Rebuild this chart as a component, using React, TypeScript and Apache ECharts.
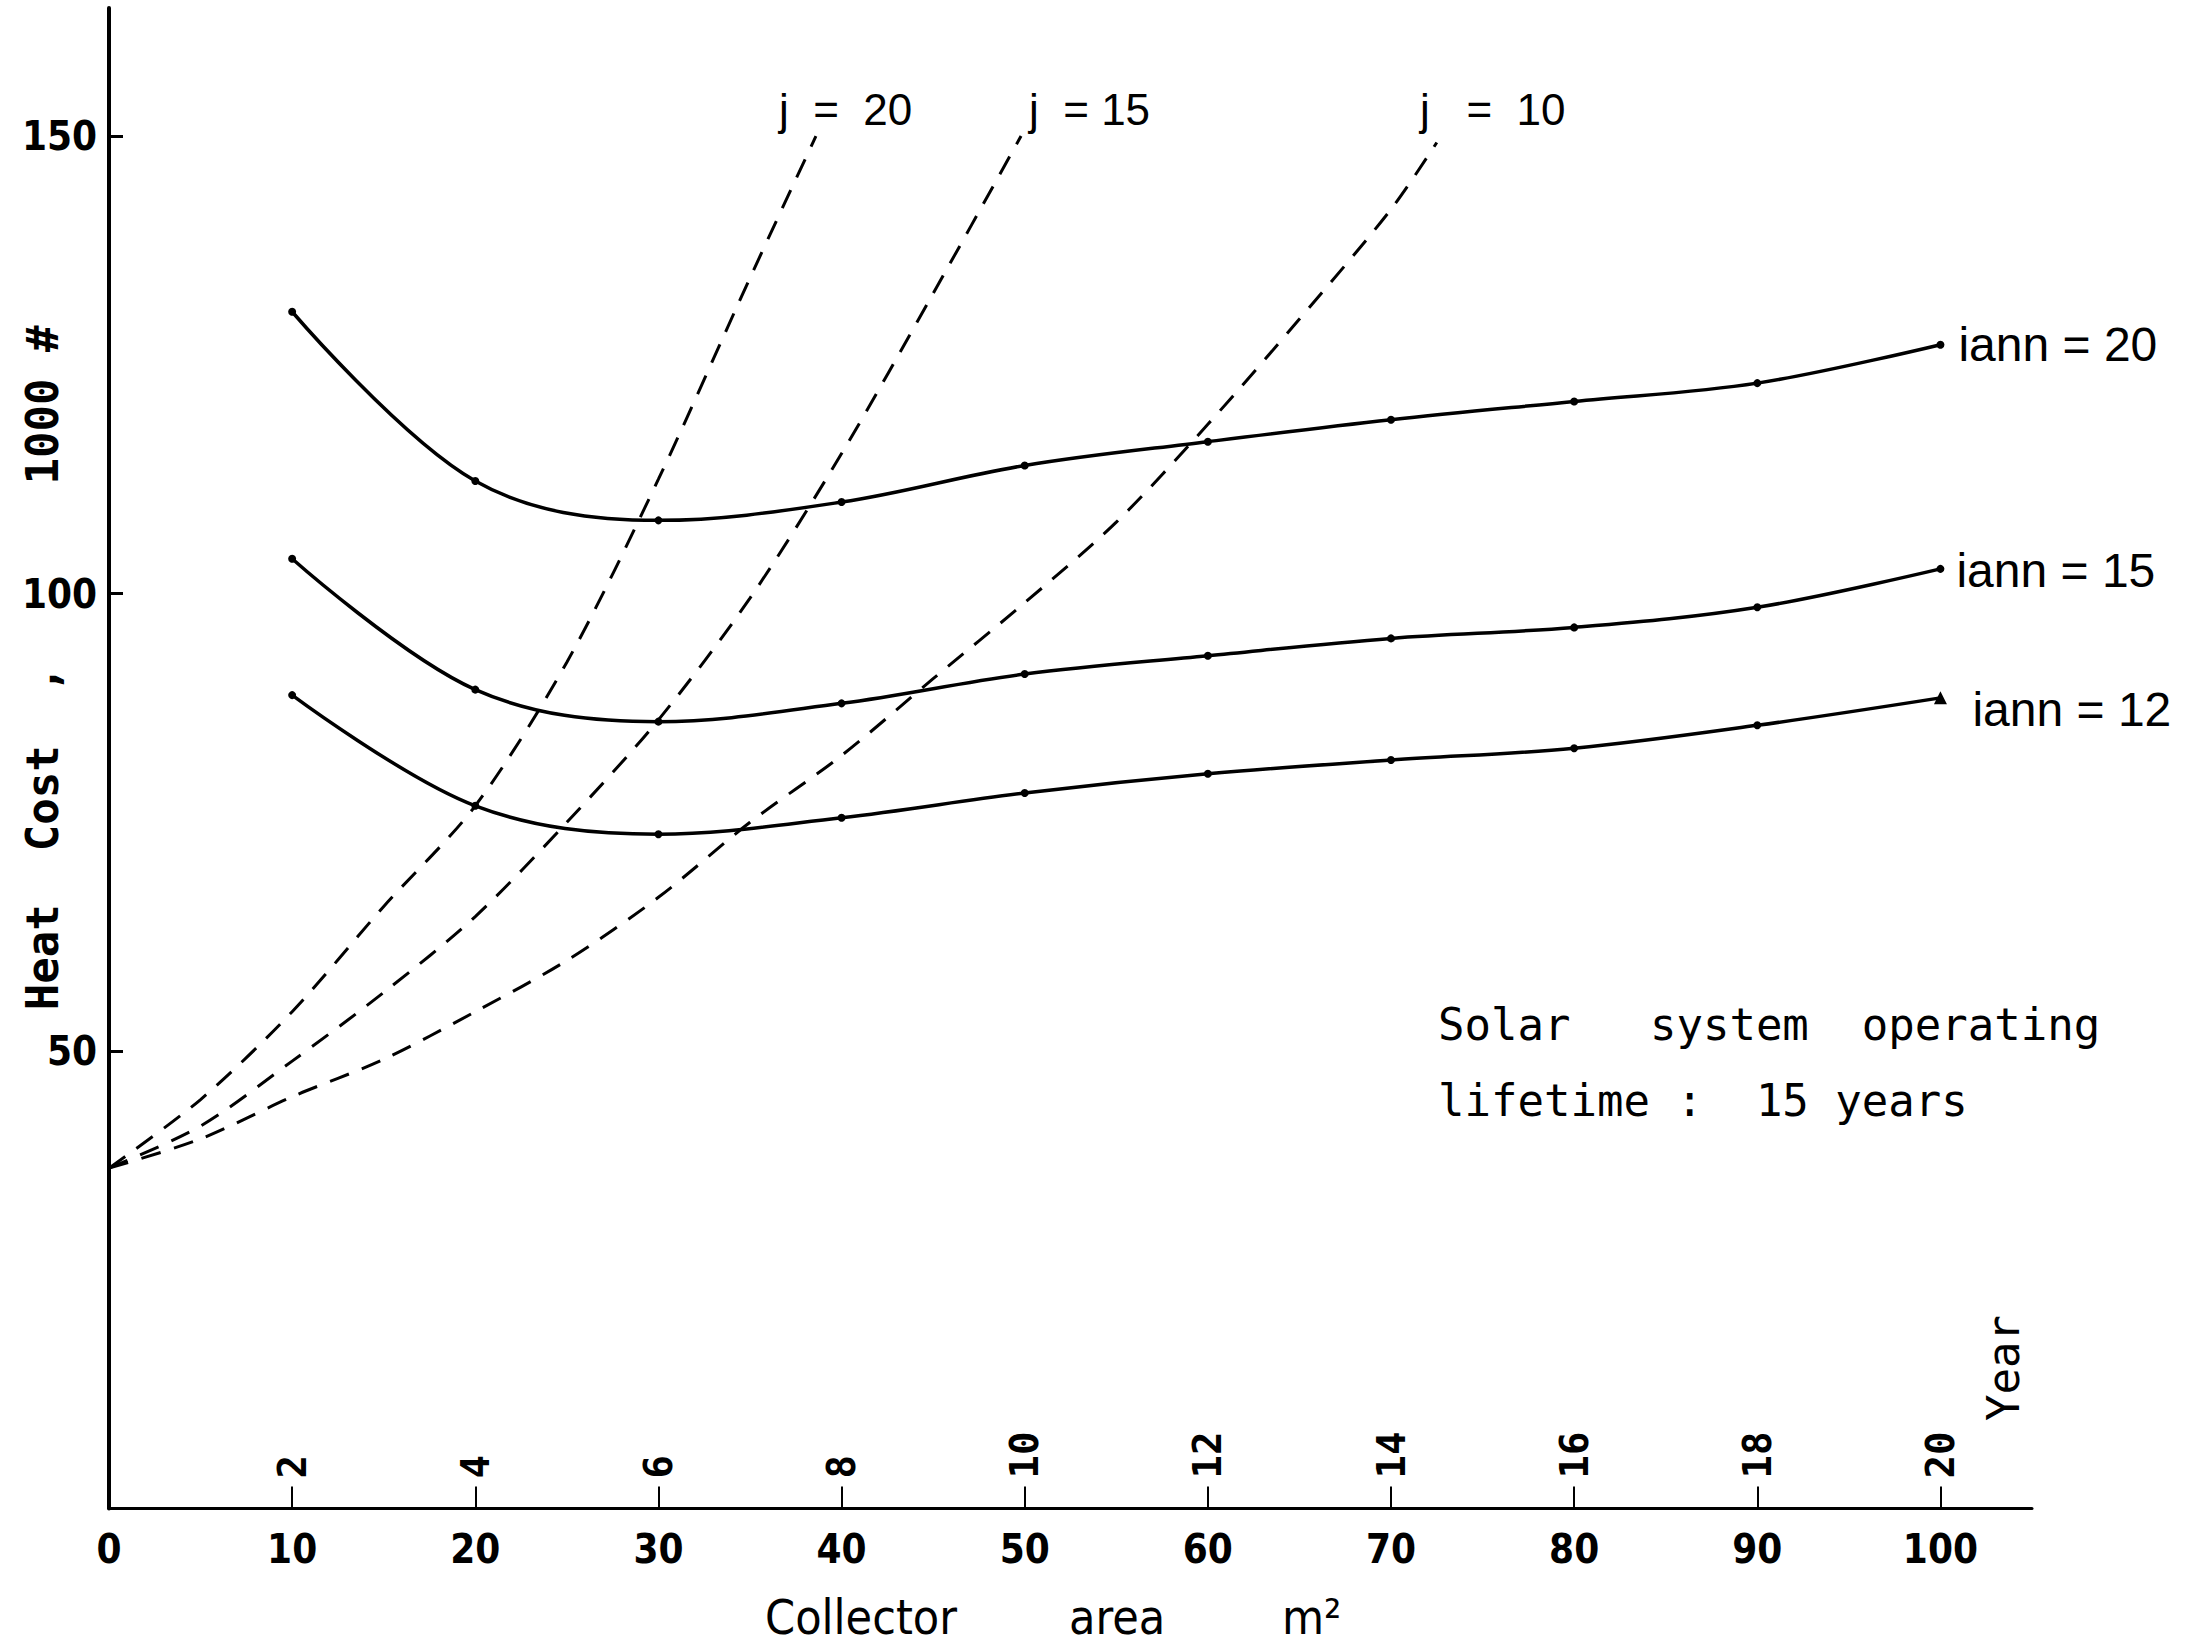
import React, { useEffect, useRef } from "react";
import * as echarts from "echarts";

// ---------- data ----------
const areaTickValues = [0, 10, 20, 30, 40, 50, 60, 70, 80, 90, 100];
const yearTickValues = [10, 20, 30, 40, 50, 60, 70, 80, 90, 100];
const yearLabels = ["2", "4", "6", "8", "10", "12", "14", "16", "18", "20"];
const costTickValues = [50, 100, 150];

const collectorArea = [10, 20, 30, 40, 50, 60, 70, 80, 90, 100];
const iann20 = [130.8, 112.3, 108.0, 110.0, 114.0, 116.6, 119.0, 121.0, 123.0, 127.2];
const iann15 = [103.8, 89.5, 86.0, 88.0, 91.2, 93.2, 95.1, 96.3, 98.5, 102.7];
const iann12 = [88.9, 76.8, 73.7, 75.5, 78.2, 80.3, 81.8, 83.1, 85.6, 88.6];

const j20Area = [0, 5, 10, 15, 20, 25, 30, 35, 38.6];
const j20Cost = [37.2, 44.7, 54.3, 65.8, 76.8, 92.5, 112.5, 134.5, 150.0];
const j15Area = [0, 5, 10, 15, 20, 25, 30, 35, 40, 45, 49.8];
const j15Cost = [37.2, 41.8, 48.9, 56.4, 64.7, 75.0, 86.2, 99.5, 115.3, 132.8, 150.0];
const j10Area = [0, 5, 10, 15, 20, 25, 30, 35, 40, 45, 50, 55, 60, 65, 70, 72.5];
const j10Cost = [37.2, 40.4, 45.0, 49.1, 54.3, 59.9, 66.8, 75.0, 82.3, 90.7, 99.0, 107.8, 118.5, 130.0, 142.0, 149.3];

const NARROW = "'Liberation Sans Narrow', 'DejaVu Sans Condensed', 'Liberation Sans', sans-serif";
const SANS = "'Liberation Sans', 'DejaVu Sans', sans-serif";
const MONO = "'DejaVu Sans Mono', 'Liberation Mono', monospace";

function pairs(xs: number[], ys: number[]) {
  return xs.map((x, i) => [x, ys[i]]);
}

export default function App() {
  const ref = useRef<HTMLDivElement>(null);

  useEffect(() => {
    if (!ref.current) return;
    const chart = echarts.init(ref.current, null, { renderer: "svg" });

    const solid = (name: string, ys: number[], labelOffset: number[], lastTriangle = false) => {
      const data: any[] = pairs(collectorArea, ys);
      if (lastTriangle) {
        const last = data.length - 1;
        data[last] = { value: data[last], symbol: "triangle", symbolSize: 13 };
      }
      return {
        type: "line",
        name,
        xAxisIndex: 0,
        data,
        smooth: 0.35,
        symbol: "circle",
        symbolSize: 8,
        lineStyle: { color: "#000", width: 3.5 },
        itemStyle: { color: "#000" },
        endLabel: {
          show: true,
          formatter: name,
          distance: 14,
          offset: labelOffset,
          fontSize: 48,
          fontFamily: SANS,
          color: "#000",
        },
      };
    };

    const dashed = (name: string, xs: number[], ys: number[]) => ({
      type: "line",
      name,
      xAxisIndex: 0,
      data: pairs(xs, ys),
      smooth: 0.3,
      symbol: "none",
      lineStyle: { color: "#000", width: 3, type: [20, 14] },
    });

    const txt = (text: string, x: number, y: number, font: string, size: number, extra: any = {}) => ({
      type: "text",
      x,
      y,
      rotation: extra.rotation || 0,
      style: {
        text,
        fontSize: size,
        fontFamily: font,
        fontWeight: extra.weight || "normal",
        fill: "#000",
        align: extra.align || "left",
        verticalAlign: "middle",
      },
    });

    chart.setOption({
      animation: false,
      backgroundColor: "#fff",
      grid: { left: 109, right: 158, top: 8, bottom: 135.5, containLabel: false },
      xAxis: [
        {
          type: "value",
          min: 0,
          max: 105,
          interval: 10,
          position: "bottom",
          axisLine: { show: true, onZero: false, lineStyle: { color: "#000", width: 3 } },
          axisTick: {
            show: true,
            inside: true,
            length: 22,
            customValues: yearTickValues,
            lineStyle: { color: "#000", width: 2 },
          },
          splitLine: { show: false },
          axisLabel: {
            margin: 20,
            customValues: areaTickValues,
            fontSize: 40,
            fontFamily: NARROW,
            fontWeight: "bold",
            color: "#000",
          },
        },
        {
          type: "value",
          min: 0,
          max: 105,
          interval: 10,
          position: "bottom",
          axisLine: { show: false },
          axisTick: { show: false },
          splitLine: { show: false },
          axisLabel: {
            inside: true,
            rotate: 90,
            margin: 30,
            customValues: yearTickValues,
            fontSize: 39,
            fontFamily: MONO,
            fontWeight: "bold",
            color: "#000",
            formatter: (v: number) => yearLabels[Math.round(v / 10) - 1] || "",
          },
        },
      ],
      yAxis: {
        type: "value",
        min: 0,
        max: 164,
        interval: 50,
        axisLine: { show: true, onZero: false, lineStyle: { color: "#000", width: 4 } },
        axisTick: {
          show: true,
          inside: true,
          length: 14,
          customValues: costTickValues,
          lineStyle: { color: "#000", width: 3 },
        },
        splitLine: { show: false },
        axisLabel: {
          margin: 12,
          customValues: costTickValues,
          fontSize: 40,
          fontFamily: NARROW,
          fontWeight: "bold",
          color: "#000",
        },
      },
      series: [
        solid("iann = 20", iann20, [4, 0]),
        solid("iann = 15", iann15, [2, 2]),
        solid("iann = 12", iann12, [18, 12], true),
        dashed("j = 20", j20Area, j20Cost),
        dashed("j = 15", j15Area, j15Cost),
        dashed("j = 10", j10Area, j10Cost),
      ],
      graphic: [
        txt("j  =  20", 779, 109, SANS, 44),
        txt("j  = 15", 1029, 109, SANS, 44),
        txt("j   =  10", 1420, 109, SANS, 44),
        txt("Solar   system  operating", 1438, 1024, MONO, 44),
        txt("lifetime :  15 years", 1438, 1100, MONO, 44),
        txt("Heat  Cost  ,", 42, 838, MONO, 44, { rotation: Math.PI / 2, align: "center", weight: "bold" }),
        txt("1000 #", 42, 405, MONO, 44, { rotation: Math.PI / 2, align: "center", weight: "bold" }),
        txt("Year", 2003, 1368, MONO, 44, { rotation: Math.PI / 2, align: "center" }),
        txt("Collector", 765, 1617, NARROW, 48),
        txt("area", 1069, 1617, NARROW, 48),
        txt("m²", 1282, 1617, NARROW, 48),
      ],
    });

    return () => chart.dispose();
  }, []);

  return (
    <div
      ref={ref}
      style={{ position: "fixed", left: 0, top: 0, width: 2190, height: 1644, background: "#fff" }}
    />
  );
}
